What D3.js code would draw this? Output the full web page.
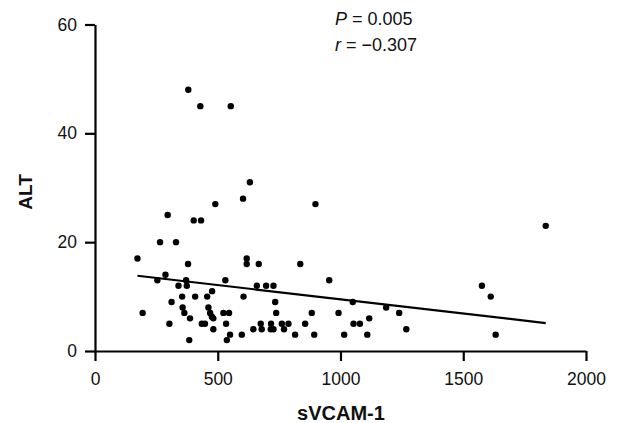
<!DOCTYPE html>
<html>
<head>
<meta charset="utf-8">
<script src="https://cdn.jsdelivr.net/npm/d3@7"></script>
<style>
  body { margin: 0; background: #fff; }
  svg { display: block; font-family: "Liberation Sans", Arial, sans-serif; }
</style>
</head>
<body>
<svg id="chart" width="622" height="423"></svg>
<script>
// sVCAM-1 values (x) and ALT values (y)
const sVCAM1 = [173,194,254,265,287,296,303,312,330,340,357,355,364,371,374,379,380,384,387,402,
  408,429,432,435,448,457,462,469,476,482,482,477,490,523,531,534,537,546,550,553,
  598,603,605,618,618,631,645,659,667,675,679,697,716,717,727,727,734,738,761,770,
  788,815,836,856,883,893,898,954,992,1015,1050,1053,1079,1109,1117,1186,1239,1268,1576,1612,
  1632,1836];
const ALT = [17,7,13,20,14,25,5,9,20,12,8,10,7,13,12,16,48,2,6,24,
  10,45,24,5,5,10,8,7,6.3,6,4,11,27,7,13,5,2,7,3,45,
  3,28,10,17,16,31,4,12,16,5,4,12,4,5,4,12,9,7,5,4,
  5,3,16,5,7,3,27,13,7,3,9,5,5,3,6,8,7,4,12,10,
  3,23];
// regression line endpoints (x) and fitted coefficients
const fitRange = [173, 1836];
const fitIntercept = 14.73;
const fitSlope = -0.00523;
const xTicks = [0, 500, 1000, 1500, 2000];
const yTicks = [0, 20, 40, 60];
const statsText = ["P", " = 0.005", "r", " = \u22120.307"];

const svg = d3.select("#chart");
const x = d3.scaleLinear().domain([0, 2000]).range([95, 586]);
const y = d3.scaleLinear().domain([0, 60]).range([351, 24.5]);

const xAxis = svg.append("g").attr("transform", "translate(0,351)")
  .call(d3.axisBottom(x).tickValues(xTicks).tickFormat(d3.format("d"))
    .tickSize(10).tickPadding(12).tickSizeOuter(0));
const yAxis = svg.append("g").attr("transform", "translate(95,0)")
  .call(d3.axisLeft(y).tickValues(yTicks).tickFormat(d3.format("d"))
    .tickSize(10).tickPadding(8).tickSizeOuter(0));

[xAxis, yAxis].forEach(g => {
  g.attr("font-size", 17.5).attr("font-family", "'Liberation Sans', Arial, sans-serif");
  g.select(".domain").attr("stroke", "#000").attr("stroke-width", 2.2);
  g.selectAll(".tick line").attr("stroke", "#000").attr("stroke-width", 2.2);
  g.selectAll(".tick text").attr("fill", "#111");
});

// points
svg.append("g").selectAll("circle")
  .data(sVCAM1.map((v, i) => [v, ALT[i]]))
  .join("circle")
  .attr("cx", d => x(d[0]))
  .attr("cy", d => y(d[1]))
  .attr("r", 3.2)
  .attr("fill", "#000");

// regression line
svg.append("line")
  .attr("x1", x(fitRange[0])).attr("y1", y(fitIntercept + fitSlope * fitRange[0]))
  .attr("x2", x(fitRange[1])).attr("y2", y(fitIntercept + fitSlope * fitRange[1]))
  .attr("stroke", "#000").attr("stroke-width", 2.2);

// stats
const st1 = svg.append("text").attr("x", 335).attr("y", 25).attr("font-size", 18).attr("fill", "#111");
st1.append("tspan").style("font-style", "italic").text(statsText[0]);
st1.append("tspan").text(statsText[1]);
const st2 = svg.append("text").attr("x", 335).attr("y", 50.5).attr("font-size", 18).attr("fill", "#111");
st2.append("tspan").style("font-style", "italic").text(statsText[2]);
st2.append("tspan").text(statsText[3]);

// axis titles
svg.append("text").attr("x", 341).attr("y", 420).attr("text-anchor", "middle")
  .attr("font-size", 20).attr("font-weight", "bold").attr("fill", "#111").text("sVCAM-1");
svg.append("text").attr("transform", "translate(32,192) rotate(-90)").attr("text-anchor", "middle")
  .attr("font-size", 19).attr("font-weight", "bold").attr("fill", "#111").text("ALT");
</script>
</body>
</html>
